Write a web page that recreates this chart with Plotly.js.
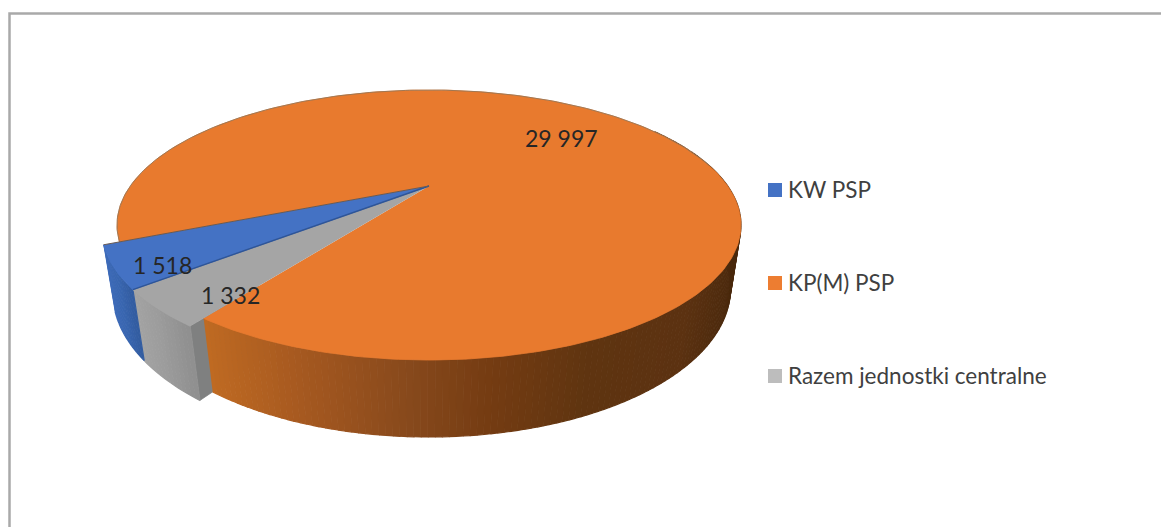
<!DOCTYPE html>
<html>
<head>
<meta charset="utf-8">
<script src="https://cdn.plot.ly/plotly-3.0.1.min.js"></script>
<style>html,body{margin:0;padding:0;background:#fff;overflow:hidden}</style>
</head>
<body>
<div id="chart" style="width:1161px;height:527px"></div>
<script>
const categories = ['KW PSP', 'KP(M) PSP', 'Razem jednostki centralne'];
const values = [1518, 29997, 1332];
const legendColors = ['#4472c4', '#ed7d31', '#bdbdbd'];
const topColors = ['#4472c4', '#e87a2e', '#a5a5a5'];
const radii = [1.045, 1, 1.045];

const startAngle = 220.2;
const total = values.reduce((a, b) => a + b, 0);
const bounds = [startAngle];
values.forEach(v => bounds.push(bounds[bounds.length - 1] - v / total * 360));

// perspective projection of the pie disc onto the page
const cam = {cx: 429, C: 298.7, A: 186, B: -70, k: 0.2889, m: 0.032, D: 68.7};
function project(r, deg, z) {
  const t = deg * Math.PI / 180, u = r * Math.cos(t), v = r * Math.sin(t);
  const w = 1 + cam.k * v + cam.m * z;
  return [cam.cx + cam.C * u / w, (cam.A + cam.B * v + cam.D * z) / w];
}
function hex(c) { return [1, 3, 5].map(i => parseInt(c.substr(i, 2), 16)); }
function ramp(stops, t) {
  t = Math.max(0, Math.min(1, t));
  for (let i = 1; i < stops.length; i++) {
    if (t <= stops[i][0]) {
      const f = (t - stops[i - 1][0]) / (stops[i][0] - stops[i - 1][0]);
      const a = hex(stops[i - 1][1]), b = hex(stops[i][1]);
      return 'rgb(' + a.map((x, j) => Math.round(x + (b[j] - x) * f)).join(',') + ')';
    }
  }
  return stops[stops.length - 1][1];
}
function poly(pts, color, width) {
  return {x: pts.map(p => p[0]), y: pts.map(p => p[1]), type: 'scatter', mode: 'lines', fill: 'toself',
    fillcolor: color, line: {color: color, width: width === undefined ? 0.8 : width},
    hoverinfo: 'skip', showlegend: false};
}
function stroke(pts, color, width) {
  return {x: pts.map(p => p[0]), y: pts.map(p => p[1]), type: 'scatter', mode: 'lines',
    line: {color: color, width: width}, hoverinfo: 'skip', showlegend: false};
}
function arc(r, from, to, z) {
  const n = Math.max(2, Math.ceil(Math.abs(to - from) / 1)), out = [];
  for (let i = 0; i <= n; i++) out.push(project(r, from + (to - from) * i / n, z));
  return out;
}
function strips(r, from, to, step, colorOf) {
  const out = [], n = Math.max(1, Math.round(Math.abs(to - from) / step));
  for (let i = 0; i < n; i++) {
    const a = from + (to - from) * i / n, b = from + (to - from) * (i + 1) / n;
    const pts = arc(r, a, b, 0).concat(arc(r, b, a, 1));
    out.push(poly(pts, colorOf(i / n, project(r, (a + b) / 2, 0)[0]), 1.2));
  }
  return out;
}

const orangeSide = [[0, '#bf6a22'], [0.16, '#a85a20'], [0.38, '#87491c'], [0.53, '#753c12'], [0.72, '#5f3410'], [0.9, '#5c3211'], [1, '#4a290d']];
const graySide = [[0, '#a3a3a3'], [0.5, '#9b9b9b'], [1, '#8e8e8e']];
const blueSide = [[0, '#3f6cba'], [0.6, '#3966b0'], [1, '#325b9e']];

const data = [];
const a0 = bounds[0], a1 = bounds[1], a2 = bounds[2], a3 = bounds[3];
// gray radial wall
data.push(poly([project(radii[2], a2, 0), project(0.8, a2, 0), project(0.8, a2, 1), project(radii[2], a2, 1)], '#7f8080'));
// orange side wall
data.push(...strips(radii[1], a2, 30, 1, (t, x) => ramp(orangeSide, (x - 205) / 536)));
// orange top face
data.push(poly([project(0, 0, 0)].concat(arc(radii[1], a1, a2, 0)), topColors[1]));
// rim on the far side
data.push(stroke(arc(radii[1], a1, 10, 0), '#8c7358', 0.8));
// gray and blue walls
data.push(...strips(radii[2], a3, a2, 1, t => ramp(graySide, t)));
data.push(...strips(radii[0], a1, a0, 1, t => ramp(blueSide, t)));
// gray and blue top faces
data.push(poly([project(0, 0, 0)].concat(arc(radii[2], a3, a2, 0)), topColors[2]));
data.push(poly([project(0, 0, 0)].concat(arc(radii[0], a0, a1, 0)), topColors[0]));
// dark seams
data.push(stroke([project(0, 0, 0), project(radii[0], a0, 0)], '#2f5597', 1.4));
data.push(stroke([project(0, 0, 0), project(radii[0], a1, 0)], '#6b5b52', 1));
// legend: swatches and their names
const legendRows = categories.map((c, i) => 190 + i * 93);
data.push({x: categories.map(() => 775), y: legendRows, type: 'scatter', mode: 'markers',
  marker: {symbol: 'square', size: 14, color: legendColors, line: {width: 0}}, hoverinfo: 'skip', showlegend: false});
data.push({x: categories.map(() => 788), y: legendRows.map(y => y + 2), type: 'scatter', mode: 'text', text: categories,
  textposition: 'middle right', textfont: {family: 'Lato, Carlito, sans-serif', size: 22.5, color: '#404040'},
  hoverinfo: 'skip', showlegend: false});

const labelFont = {family: 'Lato, Carlito, sans-serif', size: 23, color: '#262626'};
const fmt = v => String(v).replace(/\B(?=(\d{3})+$)/g, ' ');
const labelAt = [[162, 265], [561, 138], [230, 295]];
const annotations = values.map((v, i) => ({x: labelAt[i][0], y: labelAt[i][1], xref: 'x', yref: 'y',
  text: fmt(v), showarrow: false, font: labelFont, xanchor: 'center', yanchor: 'middle'}));

const frame = {type: 'path', xref: 'x', yref: 'y', line: {color: '#a9a9a9', width: 2.5},
  path: 'M 9.5 530 L 9.5 13.5 L 1165 13.5'};

Plotly.newPlot('chart', data, {
  width: 1161, height: 527, autosize: false,
  margin: {l: 0, r: 0, t: 0, b: 0, pad: 0},
  paper_bgcolor: '#ffffff', plot_bgcolor: '#ffffff',
  xaxis: {range: [0, 1161], visible: false, fixedrange: true},
  yaxis: {range: [527, 0], visible: false, fixedrange: true},
  showlegend: false,
  annotations: annotations,
  shapes: [frame]
}, {displayModeBar: false, staticPlot: true});
</script>
</body>
</html>
